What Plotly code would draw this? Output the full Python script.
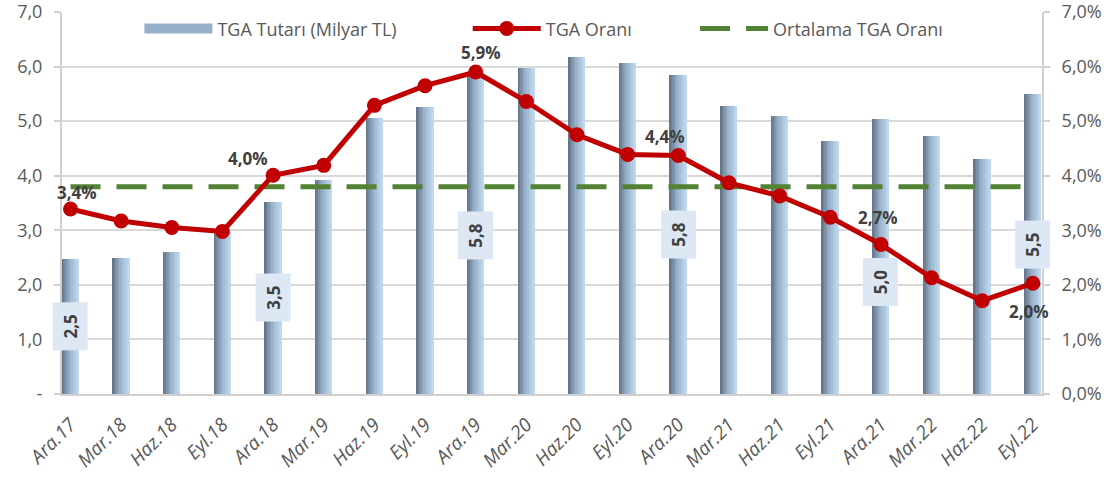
import plotly.graph_objects as go

categories = ["Ara.17", "Mar.18", "Haz.18", "Eyl.18", "Ara.18", "Mar.19", "Haz.19", "Eyl.19",
              "Ara.19", "Mar.20", "Haz.20", "Eyl.20", "Ara.20", "Mar.21", "Haz.21", "Eyl.21",
              "Ara.21", "Mar.22", "Haz.22", "Eyl.22"]
tga_amount = [2.48, 2.50, 2.60, 2.97, 3.52, 3.92, 5.05, 5.26, 5.82, 5.98, 6.18, 6.07, 5.84,
              5.27, 5.10, 4.63, 5.04, 4.72, 4.30, 5.49]
tga_ratio = [3.39, 3.17, 3.05, 2.98, 4.01, 4.19, 5.29, 5.65, 5.90, 5.36, 4.75, 4.39, 4.37,
             3.87, 3.63, 3.24, 2.74, 2.13, 1.71, 2.03]
avg_ratio = [3.80] * len(categories)

amount_label_idx = [0, 4, 8, 12, 16, 19]
ratio_label_idx = [0, 4, 8, 12, 16, 19]

left_ticks = [0, 1, 2, 3, 4, 5, 6, 7]
left_ticktext = ["-"] + [f"{v:.1f}".replace(".", ",") for v in left_ticks[1:]]
right_ticktext = [f"{v:.1f}".replace(".", ",") + "%" for v in left_ticks]

# label offsets in pixels (style only)
ratio_label_shift = {0: (6, 17), 4: (-25, 17), 8: (5, 20), 12: (-13, 19), 16: (-3, 27), 19: (-4, -28)}
amount_label_shift = {16: -25}

FONT = "'Open Sans', Lato, sans-serif"
GRAY = "#595959"
DARK = "#404040"
AXC = "#d0d0d0"
BAR_MID = "rgb(150,176,201)"

fig = go.Figure()

# gradient bars drawn as thin vertical strips of the same data
n_strips = 12
bar_w = 0.33
stops = [(0.0, (96, 112, 131)), (0.45, (150, 176, 201)), (1.0, (194, 219, 242))]


def interp(t):
    for (t0, c0), (t1, c1) in zip(stops[:-1], stops[1:]):
        if t <= t1:
            f = (t - t0) / (t1 - t0)
            return "rgb(%d,%d,%d)" % tuple(round(a + (b - a) * f) for a, b in zip(c0, c1))
    return "rgb(%d,%d,%d)" % stops[-1][1]


sw = bar_w / n_strips
for k in range(n_strips):
    fig.add_trace(go.Bar(
        x=categories, y=tga_amount,
        width=sw * 1.08, offset=-bar_w / 2 + k * sw,
        marker=dict(color=interp((k + 0.5) / n_strips), line=dict(width=0)),
        name="TGA Tutarı (Milyar TL)", legendgroup="bars",
        showlegend=False, hoverinfo="skip",
    ))

# legend proxy for the bar series (wide swatch like the original)
fig.add_trace(go.Scatter(
    x=[None], y=[None], mode="lines", line=dict(color=BAR_MID, width=13),
    name="TGA Tutarı (Milyar TL)", legendgroup="bars", legend="legend",
))

fig.add_trace(go.Scatter(
    x=categories, y=avg_ratio, yaxis="y2", mode="lines",
    line=dict(color="#548235", width=5, dash="30px,16px"),
    name="Ortalama TGA Oranı", legend="legend3",
))

fig.add_trace(go.Scatter(
    x=categories, y=tga_ratio, yaxis="y2", mode="lines+markers",
    line=dict(color="#c00000", width=5),
    marker=dict(color="#c00000", size=15),
    name="TGA Oranı", legend="legend2",
))

annotations = []
for i in amount_label_idx:
    v = tga_amount[i]
    annotations.append(dict(
        x=categories[i], y=v / 2, xref="x", yref="y",
        text="<b>" + f"{v:.1f}".replace(".", ",") + "</b>",
        showarrow=False, textangle=-90, yshift=amount_label_shift.get(i, 0),
        font=dict(family=FONT, size=17, color=DARK),
        bgcolor="#dde8f4", width=47, height=34, borderpad=0,
    ))
for i in ratio_label_idx:
    v = tga_ratio[i]
    dx, dy = ratio_label_shift[i]
    annotations.append(dict(
        x=categories[i], y=v, xref="x", yref="y2",
        text="<b>" + f"{v:.1f}".replace(".", ",") + "%</b>",
        showarrow=False, xshift=dx, yshift=dy,
        font=dict(family=FONT, size=17, color=DARK),
    ))

legend_common = dict(orientation="h", yanchor="middle", y=0.956, xanchor="left",
                     font=dict(family=FONT, size=18, color=GRAY), itemwidth=68,
                     bgcolor="rgba(255,255,255,0)")

fig.update_layout(
    template="none",
    width=1116, height=478,
    margin=dict(l=62, r=74, t=12, b=84, autoexpand=False),
    paper_bgcolor="white", plot_bgcolor="white",
    barmode="overlay", bargap=0,
    font=dict(family=FONT, color=GRAY, size=17),
    annotations=annotations,
    showlegend=True,
    legend=dict(legend_common, x=0.079),
    legend2=dict(legend_common, x=0.414),
    legend3=dict(legend_common, x=0.646),
    xaxis=dict(type="category", range=[-0.168, 19.18], tickangle=-45, automargin=False,
               tickfont=dict(family=FONT, size=19, color=GRAY, style="italic"),
               ticklabelstandoff=10, ticklabeloverflow="allow",
               showline=True, linecolor=AXC, linewidth=2,
               showgrid=False, ticks="", zeroline=False),
    xaxis2=dict(overlaying="x", anchor="y", type="linear", range=[-0.168, 19.18],
                tickvals=[i - 0.168 for i in range(len(categories))], automargin=False,
                showticklabels=False, ticks="outside", ticklen=6, tickcolor=AXC,
                tickwidth=2, showgrid=False, zeroline=False, showline=False),
    yaxis=dict(range=[0, 7.0005], tickvals=left_ticks, ticktext=left_ticktext, automargin=False,
               showgrid=True, gridcolor="#d9d9d9", gridwidth=2,
               showline=True, linecolor=AXC, linewidth=2,
               ticks="outside", ticklen=6, tickcolor=AXC, tickwidth=2,
               ticklabelstandoff=8, ticklabeloverflow="allow",
               tickfont=dict(family=FONT, size=18, color=GRAY), zeroline=False),
    yaxis2=dict(range=[0, 7.0005], tickvals=left_ticks, ticktext=right_ticktext, automargin=False,
                overlaying="y", side="right", showgrid=False,
                showline=True, linecolor=AXC, linewidth=2,
                ticks="outside", ticklen=6, tickcolor=AXC, tickwidth=2,
                ticklabelstandoff=8, ticklabeloverflow="allow",
                tickfont=dict(family=FONT, size=18, color=GRAY), zeroline=False),
)

fig.write_html("out.html", config={"displayModeBar": False},
               post_script="document.body.style.margin='0';document.body.style.padding='0';")
